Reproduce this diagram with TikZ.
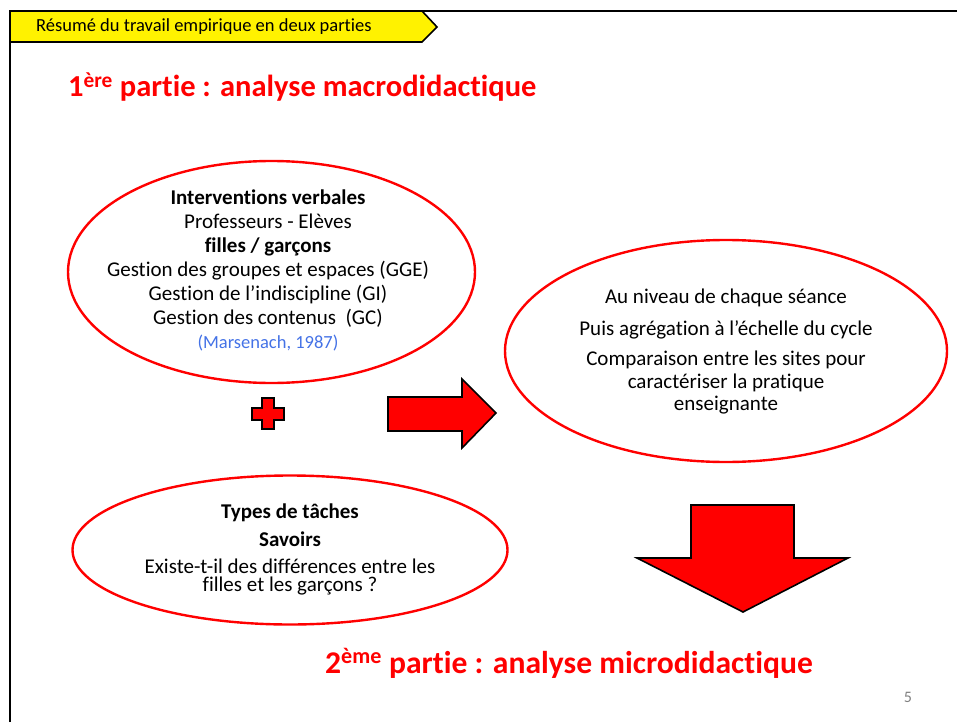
\documentclass[tikz,border=0pt]{standalone}
\usepackage{fontspec}
\setmainfont[Ligatures=NoCommon]{Carlito}
\usetikzlibrary{shapes.geometric}
\definecolor{pred}{RGB}{255,0,0}
\definecolor{citeblue}{RGB}{68,114,230}
\definecolor{pgray}{RGB}{128,128,128}
\begin{document}
\begin{tikzpicture}[x=1pt,y=-1pt,
  oval/.style={ellipse, draw=pred, line width=2.4pt, inner sep=0pt},
  bodytext/.style={align=center, text=black, inner sep=0pt},
  bigtitle/.style={text=pred, font=\fontsize{30.5}{34}\selectfont\bfseries, anchor=base west, inner sep=0pt},
  blockarrow/.style={fill=pred, draw=black, line width=1.6pt, line join=miter}
]
\useasboundingbox (0,0) rectangle (957,722);
% frame
\draw[line width=2pt] (10,722) -- (10,11) -- (957,11);
% banner
\filldraw[fill=yellow, draw=black, line width=1.6pt] (10,11) -- (422,11) -- (437,27) -- (422,42) -- (10,42) -- cycle;
\node[anchor=west, inner sep=0pt, font=\fontsize{18.5}{20}\selectfont] (banner) at (36,27) {Résumé du travail empirique en deux parties};
% titles
\node[bigtitle] (t1) at (68,97) {1\textsuperscript{ère} partie : analyse macrodidactique};
\node[bigtitle, font=\fontsize{31.6}{35}\selectfont\bfseries] (t2) at (325,673) {2\textsuperscript{ème} partie : analyse microdidactique};
% ellipses
\node[oval, minimum width=407pt, minimum height=222pt] (e1) at (271.5,272) {};
\node[oval, minimum width=442pt, minimum height=222pt] (e2) at (726,351) {};
\node[oval, minimum width=435pt, minimum height=149pt] (e3) at (290,550) {};
% texts
\node[bodytext, font=\fontsize{21}{24}\selectfont] (x1) at (268,270) {%
  \textbf{Interventions verbales}\\
  Professeurs - Elèves\\
  \textbf{filles / garçons}\\
  Gestion des groupes et espaces (GGE)\\
  Gestion de l’indiscipline (GI)\\
  Gestion des contenus\ \ (GC)\\
  {\fontsize{18.5}{20}\selectfont\color{citeblue}(Marsenach, 1987)}};
\node[bodytext, font=\fontsize{21}{22.5}\selectfont] (x2) at (726,352) {%
  Au niveau de chaque séance\\[9pt]
  Puis agrégation à l’échelle du cycle\\[8pt]
  Comparaison entre les sites pour\\
  caractériser la pratique\\
  enseignante};
\node[bodytext, font=\fontsize{21}{17.5}\selectfont] (x3) at (290,549) {%
  \textbf{Types de tâches}\\[9.5pt]
  \textbf{Savoirs}\\[9.5pt]
  Existe-t-il des différences entre les\\
  filles et les garçons ?};
% plus sign
\filldraw[blockarrow] (262,398) -- (274,398) -- (274,408) -- (284,408) -- (284,420) -- (274,420) -- (274,429) -- (262,429) -- (262,420) -- (252,420) -- (252,408) -- (262,408) -- cycle;
% right arrow
\filldraw[blockarrow] (388,397) -- (462,397) -- (462,379) -- (496,413) -- (462,448) -- (462,431) -- (388,431) -- cycle;
% down arrow
\filldraw[blockarrow] (691,505) -- (794,505) -- (794,558) -- (848,558) -- (743,612) -- (637,558) -- (691,558) -- cycle;
% page number
\node[text=pgray, font=\fontsize{16}{18}\selectfont, inner sep=0pt] (pg) at (908,697) {5};
\end{tikzpicture}
\end{document}
